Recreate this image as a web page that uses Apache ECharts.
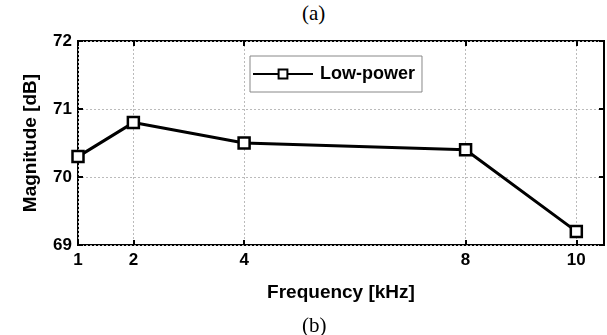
<!DOCTYPE html>
<html lang="en">
<head>
    <meta charset="UTF-8">
    <title>Magnitude vs Frequency</title>
    <script src="https://cdn.jsdelivr.net/npm/echarts@6/dist/echarts.min.js"></script>
    <style>
      body { margin: 0; background: #fff; overflow: hidden; }
      .cap { position: absolute; font-family: "Liberation Serif", serif; font-size: 21px; line-height: 21px; color: #000; }
    </style>
</head>
<body>
    <div class="cap" style="left:302px;top:3px;">(a)</div>
    <div id="main" style="width: 607px;height:335px;"></div>
    <div class="cap" style="left:302px;top:315px;">(b)</div>
</body>

<script>
  // data
  const freq = [1, 2, 4, 8, 10]
  const magnitude = [70.3, 70.8, 70.5, 70.4, 69.2]
  const xTicks = [1, 2, 4, 8, 10]
  const seriesName = 'Low-power'

  const font = 'Liberation Sans, Arial, sans-serif'
  const myChart = echarts.init(document.getElementById('main'))

  const gridLine = { show: true, lineStyle: { color: '#bbb', type: [2, 2], width: 1 } }
  const tickStyle = { color: '#000', width: 2 }

  const option = {
    animation: false,
    grid: {
      left: 78, right: 3, top: 41, bottom: 90,
      show: true, borderColor: '#000', borderWidth: 2
    },
    legend: {
      data: [seriesName],
      left: 250, top: 56,
      itemWidth: 60, itemHeight: 11, itemGap: 0,
      padding: [9, 7, 9, 2],
      borderColor: '#888', borderWidth: 1,
      textStyle: { fontFamily: font, fontWeight: 'bold', fontSize: 18, color: '#000', padding: [0, 0, 0, 2] }
    },
    xAxis: [
      {
        type: 'value', min: 1, max: 10.5,
        name: 'Frequency [kHz]', nameLocation: 'middle', nameGap: 38,
        nameTextStyle: { fontFamily: font, fontWeight: 'bold', fontSize: 19, color: '#000' },
        axisLine: { show: false },
        axisTick: { inside: true, length: 5, customValues: xTicks, lineStyle: tickStyle },
        axisLabel: { customValues: xTicks, fontFamily: font, fontWeight: 'bold', fontSize: 17, color: '#000', margin: 7 },
        splitLine: gridLine
      },
      {
        type: 'value', min: 1, max: 10.5, position: 'top',
        axisLine: { show: false },
        axisTick: { inside: true, length: 5, customValues: xTicks, lineStyle: tickStyle },
        axisLabel: { show: false },
        splitLine: { show: false }
      }
    ],
    yAxis: [
      {
        type: 'value', min: 69, max: 72, interval: 1,
        name: 'Magnitude [dB]', nameLocation: 'middle', nameGap: 38,
        nameTextStyle: { fontFamily: font, fontWeight: 'bold', fontSize: 19, color: '#000' },
        axisLine: { show: false },
        axisTick: { show: true, inside: true, length: 5, lineStyle: tickStyle },
        axisLabel: { fontFamily: font, fontWeight: 'bold', fontSize: 17, color: '#000', margin: 6 },
        splitLine: gridLine
      },
      {
        type: 'value', min: 69, max: 72, interval: 1, position: 'right',
        axisLine: { show: false },
        axisTick: { show: true, inside: true, length: 5, lineStyle: tickStyle },
        axisLabel: { show: false },
        splitLine: { show: false }
      }
    ],
    series: [
      {
        name: seriesName,
        type: 'line',
        data: freq.map((f, i) => [f, magnitude[i]]),
        symbol: 'rect',
        symbolSize: 11,
        showAllSymbol: true,
        lineStyle: { color: '#000', width: 3 },
        itemStyle: { color: '#fff', borderColor: '#000', borderWidth: 2.5 }
      }
    ]
  }

  myChart.setOption(option)
</script>

</html>
